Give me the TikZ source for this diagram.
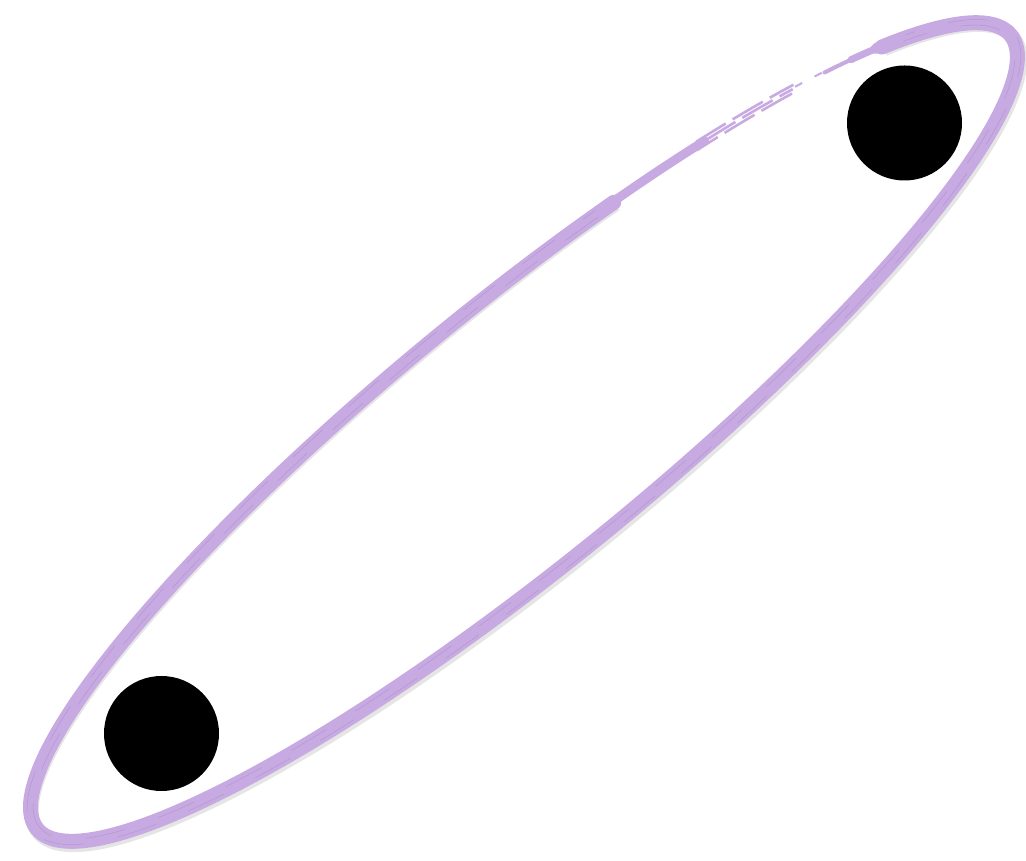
\documentclass[tikz,border=0pt]{standalone}
\usetikzlibrary{positioning,calc}
\definecolor{lilac}{RGB}{200,170,226}
\definecolor{lilacdark}{RGB}{178,152,206}
\begin{document}
\begin{tikzpicture}[x=1pt,y=1pt,
  blob/.style={circle,fill=black,minimum size=115pt,inner sep=0pt},
  ring/.style={lilac,line width=15pt,line cap=round},
  scratch/.style={lilacdark,line width=0.5pt,line cap=round}]
\useasboundingbox (0,0) rectangle (1026,860);
% soft shadow under the ring
\begin{scope}[shift={(526,425)},rotate=39.2]
\draw[gray!20,line width=14pt] (70:629pt and 130pt) arc[start angle=70,end angle=394,x radius=629pt,y radius=130pt];
\end{scope}
\begin{scope}[shift={(524,428)},rotate=39.2]
\draw[ring] (70:628pt and 129pt) arc[start angle=70,end angle=394,x radius=628pt,y radius=129pt];
% tapering end
\foreach \s/\e/\w in {32/35/11, 35/39/7, 39/43/4}
  \draw[lilac,line width=\w pt,line cap=round] (\s:629pt and 130pt) arc[start angle=\s,end angle=\e,x radius=629pt,y radius=130pt];
\draw[lilac,line width=9pt,line cap=round] (59:629pt and 130pt) arc[start angle=59,end angle=71,x radius=629pt,y radius=130pt];
% thin strokes and gap
\foreach \r/\q/\d in {624/126/0, 629/130/20, 634/134/8}
  \draw[lilac,line width=2.6pt,dash pattern=on 35pt off 8pt,dash phase=\d pt] (47.5:\r pt and \q pt) arc[start angle=47.5,end angle=60,x radius=\r pt,y radius=\q pt];
\draw[lilac,line width=2pt,dash pattern=on 8pt off 14pt] (43.5:631pt and 131pt) arc[start angle=43.5,end angle=47.5,x radius=631pt,y radius=131pt];
% scratches inside the ring
\foreach \r/\q/\d in {625/126/0, 632/133/25}
  \draw[scratch,dash pattern=on 40pt off 35pt,dash phase=\d pt] (72:\r pt and \q pt) arc[start angle=72,end angle=390,x radius=\r pt,y radius=\q pt];
\end{scope}
\node[blob] (lo) at (161.5,126.5) {};
\node[blob] (hi) at (904.5,737) {};
\end{tikzpicture}
\end{document}
